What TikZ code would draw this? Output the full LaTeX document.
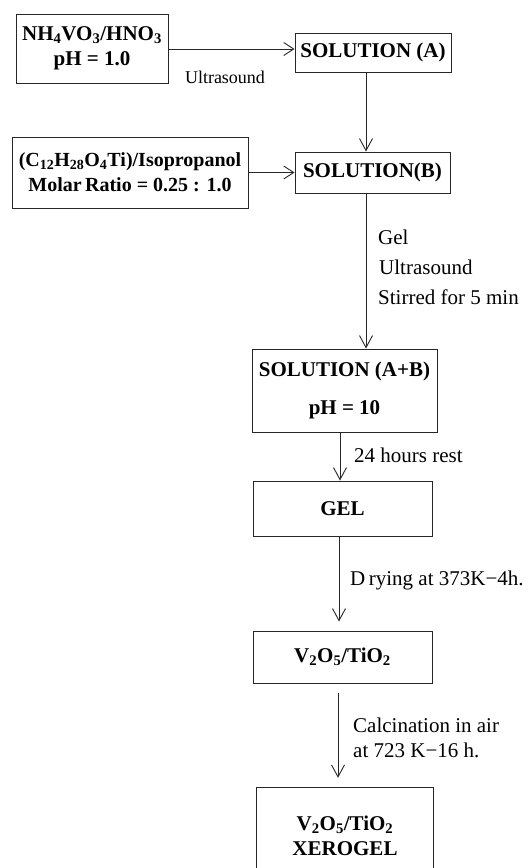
\documentclass[tikz,border=0pt]{standalone}
\usepackage{fontspec}
\setmainfont{Liberation Serif}
\usetikzlibrary{arrows.meta}
\begin{document}
\begin{tikzpicture}[x=1pt,y=-1pt,
 box/.style={draw=black!85, line width=1pt, inner sep=1pt, align=center, font=\fontsize{21}{25}\selectfont\bfseries},
 txt/.style={inner sep=0pt, align=center, font=\fontsize{21}{25}\selectfont\bfseries},
 lbl/.style={anchor=west, inner sep=0pt, font=\fontsize{21}{25}\selectfont},
 arr/.style={draw=black!85, line width=0.9pt, -{Straight Barb[length=12pt,width=13pt,line width=0.9pt]}},
 harr/.style={draw=black!85, line width=0.9pt, -{Straight Barb[length=10pt,width=13pt,line width=0.9pt]}}]
\useasboundingbox (0,0) rectangle (531,868);

% boxes
\node[box, minimum width=152, minimum height=69] (b1) at (92,48.5)
  {NH\textsubscript{4}VO\textsubscript{3}/HNO\textsubscript{3}\\pH = 1.0};
\node[box, minimum width=156, minimum height=39] (sA) at (373,52.5) {SOLUTION (A)};
\node[box, minimum width=236, minimum height=71, font=\fontsize{20}{25}\selectfont\bfseries] (b2) at (130,172.5)
  {(C\textsubscript{12}H\textsubscript{28}O\textsubscript{4}Ti)/Isopropanol\\Molar\,Ratio = 0.25 : 1.0};
\node[box, minimum width=155, minimum height=41] (sB) at (372.5,172.5) {SOLUTION(B)};
\node[box, minimum width=185, minimum height=83, font=\fontsize{21}{38}\selectfont\bfseries] (sAB) at (344.5,390.5)
  {SOLUTION (A+B)\\pH = 10};
\node[box, minimum width=179, minimum height=55] (gel) at (342.5,508.5) {GEL};
\node[box, minimum width=179, minimum height=52] (v) at (342.5,657)
  {V\textsubscript{2}O\textsubscript{5}/TiO\textsubscript{2}};
\node[minimum width=176, minimum height=80, inner sep=0pt] (xg) at (345,828) {};
\draw[draw=black!85, line width=1pt] (xg.south west) -- (xg.north west) -- (xg.north east) -- (xg.south east);
\node[txt] (xt) at (345,836) {V\textsubscript{2}O\textsubscript{5}/TiO\textsubscript{2}\\XEROGEL};

% labels
\node[inner sep=0pt, font=\fontsize{18}{22}\selectfont] (l1) at (225,77) {Ultrasound};
\node[lbl] (l2) at (378,237) {Gel};
\node[lbl] (l3) at (379,267) {Ultrasound};
\node[lbl] (l4) at (378,297) {Stirred for 5 min};
\node[lbl] (l5) at (354,455) {24 hours rest};
\node[lbl] (l6) at (350,580) {D\,rying at 373K−4h.};
\node[lbl] (l7) at (353,725) {Calcination in air};
\node[lbl] (l8) at (353,750) {at 723 K−16 h.};

% connectors
\draw[harr] ([yshift=-0.5pt]b1.east) -- ([yshift=-0.5pt]b1.east -| sA.west);
\draw[arr] ([xshift=-7pt]sA.south) -- ([xshift=-7pt]sA.south |- sB.north);
\draw[harr] (b2.east) -- (b2.east -| sB.west);
\draw[arr] ([xshift=-6.5pt]sB.south) -- ([xshift=-6.5pt]sB.south |- sAB.north);
\draw[arr] ([xshift=-4.5pt]sAB.south) -- ([xshift=-4.5pt]sAB.south |- gel.north);
\draw[arr, shorten >=9pt] ([xshift=-3.5pt]gel.south) -- ([xshift=-3.5pt]gel.south |- v.north);
\draw[arr, shorten <=9pt, shorten >=10pt] ([xshift=-4.5pt]v.south) -- ([xshift=-4.5pt]v.south |- xg.north);
\end{tikzpicture}
\end{document}
